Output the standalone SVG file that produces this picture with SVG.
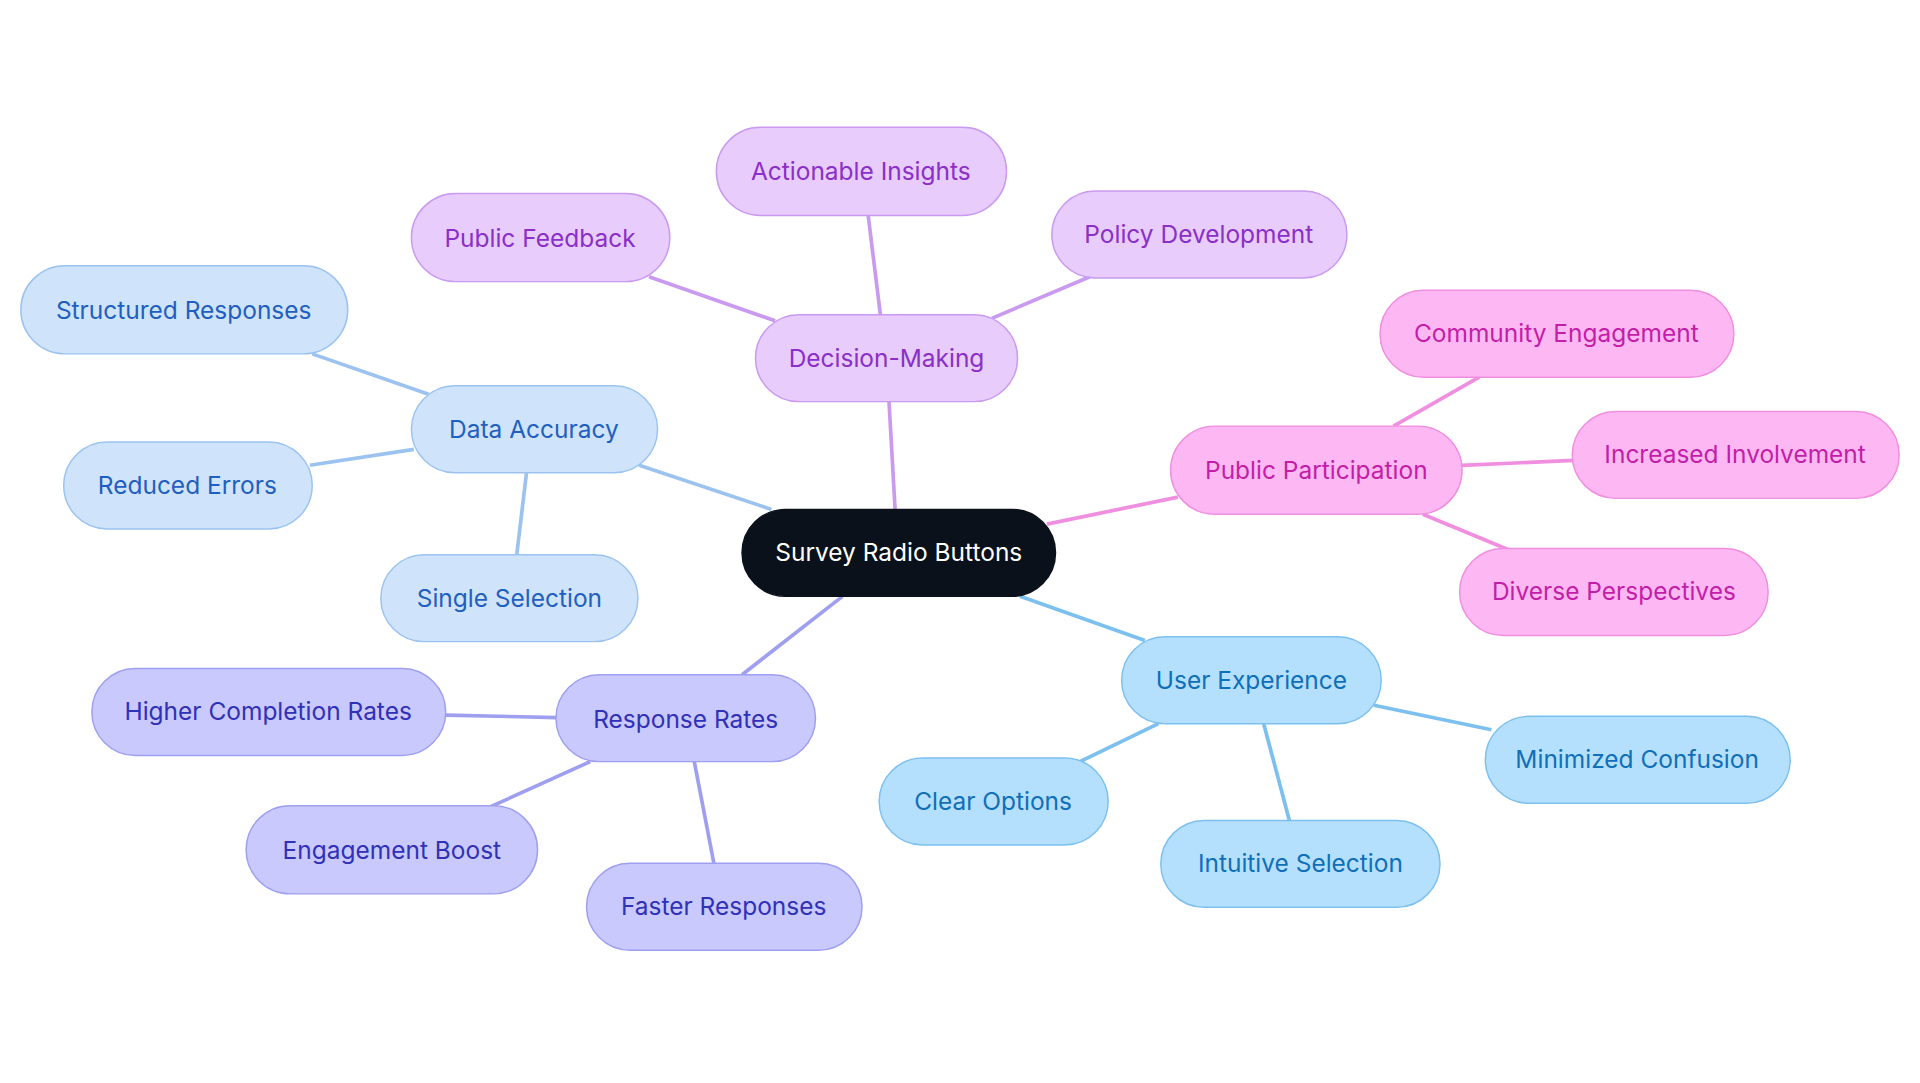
<svg xmlns="http://www.w3.org/2000/svg" width="1920" height="1083" viewBox="0 0 1920 1083">
<style>
text{font-family:Inter,"Noto Sans",sans-serif;font-size:20px;text-anchor:middle;dominant-baseline:central}
rect{stroke-width:1.2}
.a rect{fill:#cfe3fb;stroke:#9cc3f0}.a text{fill:#1f5fc0}
.d rect{fill:#e8ccfc;stroke:#c99af0}.d text{fill:#8a2fc8}
.p rect{fill:#fdb8f3;stroke:#f08ee0}.p text{fill:#c21ea8}
.u rect{fill:#b5e0fd;stroke:#7cc0ef}.u text{fill:#0f6fb8}
.r rect{fill:#c9c9fd;stroke:#9f9ff0}.r text{fill:#3030b8}
.c rect{fill:#0b111a;stroke:#0b111a}.c text{fill:#fff}
line{stroke-width:3}
</style>
<rect width="1920" height="1083" fill="#fff"/>
<g transform="scale(1.22449)">
<g id="connectors">
<line x1="630" y1="416" x2="522" y2="380" stroke="#9cc3f0"/>
<line x1="350" y1="322" x2="255" y2="289" stroke="#9cc3f0"/>
<line x1="338" y1="367" x2="253" y2="380" stroke="#9cc3f0"/>
<line x1="430" y1="386" x2="422" y2="453" stroke="#9cc3f0"/>
<line x1="731" y1="416" x2="726" y2="328" stroke="#c99af0"/>
<line x1="633" y1="262" x2="530" y2="226" stroke="#c99af0"/>
<line x1="719" y1="257" x2="709" y2="176" stroke="#c99af0"/>
<line x1="810" y1="260" x2="890" y2="226" stroke="#c99af0"/>
<line x1="855" y1="428" x2="962" y2="406" stroke="#f08ee0"/>
<line x1="1138" y1="348" x2="1208" y2="308" stroke="#f08ee0"/>
<line x1="1194" y1="380" x2="1285" y2="376" stroke="#f08ee0"/>
<line x1="1162" y1="420" x2="1232" y2="449" stroke="#f08ee0"/>
<line x1="833" y1="487" x2="935" y2="523" stroke="#7cc0ef"/>
<line x1="1122" y1="576" x2="1218" y2="596" stroke="#7cc0ef"/>
<line x1="946" y1="591" x2="882" y2="622" stroke="#7cc0ef"/>
<line x1="1032" y1="591" x2="1053" y2="670" stroke="#7cc0ef"/>
<line x1="688" y1="487" x2="606" y2="551" stroke="#9f9ff0"/>
<line x1="455" y1="586" x2="364" y2="584" stroke="#9f9ff0"/>
<line x1="482" y1="622" x2="398" y2="660" stroke="#9f9ff0"/>
<line x1="567" y1="622" x2="583" y2="705" stroke="#9f9ff0"/>
</g>
<g id="center" class="c"><rect x="606" y="416" width="256" height="71" rx="35.5"/><text x="734" y="451">Survey Radio Buttons</text></g>
<g id="data-accuracy" class="a"><rect x="336" y="315" width="201" height="71" rx="35.5"/><text x="436" y="350">Data Accuracy</text></g>
<g id="structured-responses" class="a"><rect x="17" y="217" width="267" height="72" rx="36"/><text x="150" y="253">Structured Responses</text></g>
<g id="reduced-errors" class="a"><rect x="52" y="361" width="203" height="71" rx="35.5"/><text x="153" y="396">Reduced Errors</text></g>
<g id="single-selection" class="a"><rect x="311" y="453" width="210" height="71" rx="35.5"/><text x="416" y="488">Single Selection</text></g>
<g id="decision-making" class="d"><rect x="617" y="257" width="214" height="71" rx="35.5"/><text x="724" y="292">Decision-Making</text></g>
<g id="public-feedback" class="d"><rect x="336" y="158" width="211" height="72" rx="36"/><text x="441" y="194">Public Feedback</text></g>
<g id="actionable-insights" class="d"><rect x="585" y="104" width="237" height="72" rx="36"/><text x="703" y="140">Actionable Insights</text></g>
<g id="policy-development" class="d"><rect x="859" y="156" width="241" height="71" rx="35.5"/><text x="979" y="191">Policy Development</text></g>
<g id="public-participation" class="p"><rect x="956" y="348" width="238" height="72" rx="36"/><text x="1075" y="384">Public Participation</text></g>
<g id="community-engagement" class="p"><rect x="1127" y="237" width="289" height="71" rx="35.5"/><text x="1271" y="272">Community Engagement</text></g>
<g id="increased-involvement" class="p"><rect x="1284" y="336" width="267" height="71" rx="35.5"/><text x="1417" y="371">Increased Involvement</text></g>
<g id="diverse-perspectives" class="p"><rect x="1192" y="448" width="252" height="71" rx="35.5"/><text x="1318" y="483">Diverse Perspectives</text></g>
<g id="user-experience" class="u"><rect x="916" y="520" width="212" height="71" rx="35.5"/><text x="1022" y="555">User Experience</text></g>
<g id="minimized-confusion" class="u"><rect x="1213" y="585" width="249" height="71" rx="35.5"/><text x="1337" y="620">Minimized Confusion</text></g>
<g id="clear-options" class="u"><rect x="718" y="619" width="187" height="71" rx="35.5"/><text x="811" y="654">Clear Options</text></g>
<g id="intuitive-selection" class="u"><rect x="948" y="670" width="228" height="71" rx="35.5"/><text x="1062" y="705">Intuitive Selection</text></g>
<g id="response-rates" class="r"><rect x="454" y="551" width="212" height="71" rx="35.5"/><text x="560" y="587">Response Rates</text></g>
<g id="higher-completion-rates" class="r"><rect x="75" y="546" width="289" height="71" rx="35.5"/><text x="219" y="581">Higher Completion Rates</text></g>
<g id="engagement-boost" class="r"><rect x="201" y="658" width="238" height="72" rx="36"/><text x="320" y="694">Engagement Boost</text></g>
<g id="faster-responses" class="r"><rect x="479" y="705" width="225" height="71" rx="35.5"/><text x="591" y="740">Faster Responses</text></g>
</g>
</svg>
